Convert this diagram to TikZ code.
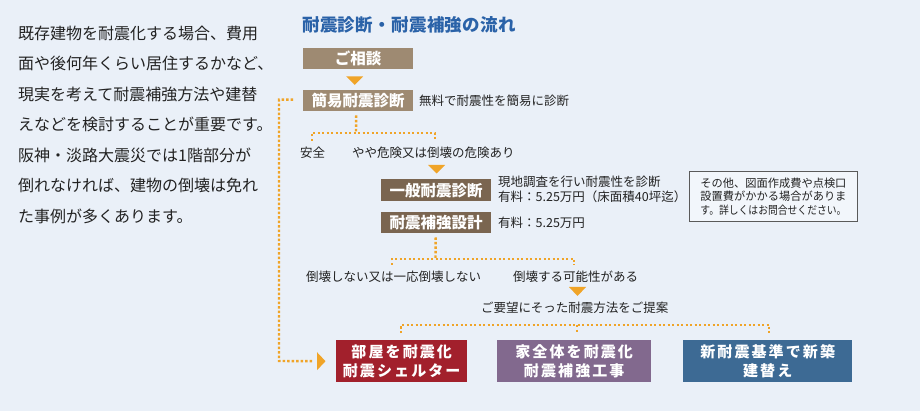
\documentclass[tikz,border=0pt]{standalone}
\usepackage{fontspec}
\usepackage{graphicx}
\setmainfont{Noto Sans CJK JP}
\newfontfamily\jpwide[LetterSpace=14]{Noto Sans CJK JP}
\newfontfamily\jptitle[LetterSpace=2]{Noto Sans CJK JP}
\usetikzlibrary{calc}
\definecolor{bg}{HTML}{EAF0F8}
\definecolor{ttl}{HTML}{2A62A8}
\definecolor{tanb}{HTML}{9E8A72}
\definecolor{dbrown}{HTML}{7A6550}
\definecolor{org}{HTML}{F0A428}
\definecolor{redb}{HTML}{A2202C}
\definecolor{purb}{HTML}{82698E}
\definecolor{blub}{HTML}{3D6A94}
\definecolor{txt}{HTML}{222222}
\definecolor{notebd}{HTML}{5A5A5A}
\newcommand{\notel}[1]{\resizebox{146pt}{\height}{#1}}
\tikzset{
  box/.style={anchor=north west, inner sep=0pt, text=white, minimum width=110pt, minimum height=21pt, font=\fontsize{15.5}{17}\selectfont\bfseries},
  bigbox/.style={anchor=north west, inner sep=0pt, text=white, align=center, minimum height=42pt, font=\jpwide\fontsize{15}{19}\selectfont\bfseries},
  lbl/.style={anchor=west, inner sep=0pt, text=txt, font=\fontsize{12.5}{14}\selectfont},
  para/.style={anchor=west, inner sep=0pt, text=txt, font=\fontsize{16}{18}\selectfont},
  dots/.style={draw=org, line width=2.4pt, line cap=butt, dash pattern=on 2.4pt off 2.1pt},
  tri/.style={fill=org},
}
\begin{document}
\begin{tikzpicture}[x=1pt,y=-1pt]
\fill[bg] (0,0) rectangle (920,411);
\useasboundingbox (0,0) rectangle (920,411);

% left paragraph
\node[para] (p1) at (18,33.0) {既存建物を耐震化する場合、費用};
\node[para] (p2) at (18,63.5) {面や後何年くらい居住するかなど、};
\node[para] (p3) at (18,94.0) {現実を考えて耐震補強方法や建替};
\node[para] (p4) at (18,124.5) {えなどを検討することが重要です。};
\node[para] (p5) at (18,155.0) {阪神・淡路大震災では1階部分が};
\node[para] (p6) at (18,185.5) {倒れなければ、建物の倒壊は免れ};
\node[para] (p7) at (18,216.0) {た事例が多くあります。};

% title
\node[anchor=west, inner sep=0pt, text=ttl, font=\jptitle\fontsize{17.5}{20}\selectfont\bfseries] (title) at (302,25) {耐震診断・耐震補強の流れ};

% flow boxes
\node[box, fill=tanb] (sodan) at (303,48) {ご相談};
\node[box, fill=tanb] (kani) at (303,90) {簡易耐震診断};
\node[box, fill=dbrown, minimum height=22pt] (ippan) at (381,179) {一般耐震診断};
\node[box, fill=dbrown] (sekkei) at (381,212) {耐震補強設計};

\node[bigbox, fill=redb, minimum width=131pt] (shelter) at (336,340) {部屋を耐震化\\耐震シェルター};
\node[bigbox, fill=purb, minimum width=154pt] (zentai) at (497,340) {家全体を耐震化\\耐震補強工事};
\node[bigbox, fill=blub, minimum width=169pt] (shin) at (683,340) {新耐震基準で新築\\建替え};

% labels
\node[lbl] (d1) at (419,100.5) {無料で耐震性を簡易に診断};
\node[lbl] (anzen) at (300,153) {安全};
\node[lbl] (kiken) at (352,153) {やや危険又は倒壊の危険あり};
\node[lbl] (d2a) at (498,182) {現地調査を行い耐震性を診断};
\node[lbl] (d2b) at (498,197) {有料：5.25万円（床面積40坪迄）};
\node[lbl] (d3) at (498,223) {有料：5.25万円};
\node[lbl] (tou1) at (306,277) {倒壊しない又は一応倒壊しない};
\node[lbl] (tou2) at (513,277) {倒壊する可能性がある};
\node[lbl] (yobo) at (481,308) {ご要望にそった耐震方法をご提案};

% note box
\node[anchor=north west, draw=notebd, line width=0.9pt, fill=bg!60!white, minimum width=168pt, minimum height=50pt, inner sep=0pt, align=left, text=txt, font=\fontsize{11.3}{13.5}\selectfont] (note) at (689,171) {\notel{その他、図面作成費や点検口}\\\notel{設置費がかかる場合がありま}\\\notel{す。詳しくはお問合せください。}};

% triangles
\fill[tri] ($(sodan.south)+(-12,7)$) -- ++(17,0) -- ++(-8.5,8.5) -- cycle;
\fill[tri] ($(ippan.north)+(-8,-14)$) -- ++(17,0) -- ++(-8.5,8.5) -- cycle;
\coordinate (t3) at (577.5,287);
\fill[tri] ($(t3)+(-8.5,0)$) -- ++(17,0) -- ++(-8.5,9) -- cycle;
\fill[tri] ($(shelter.west)+(-19,-9)$) -- ++(8.5,9) -- ++(-8.5,9) -- cycle;

% dotted connectors
\draw[dots] ($(kani.south)+(-2,4)$) -- (356,133);
\draw[dots] (312,141) -- (312,133) -- (435,133) -- (435,139);
\draw[dots] ($(sekkei.south)+(-0.5,4)$) -- (435.5,259);
\draw[dots] (392,265) -- (392,259) -- (574,259) -- (574,265);
\draw[dots] (401,333) -- (401,325) -- (769,325) -- (769,333);
\draw[dots] (577,325) -- (577,333);
\draw[dots] ($(kani.west)+(-10,-1)$) -| (279,361) -- ($(shelter.west)+(-22,0)$);
\end{tikzpicture}
\end{document}
